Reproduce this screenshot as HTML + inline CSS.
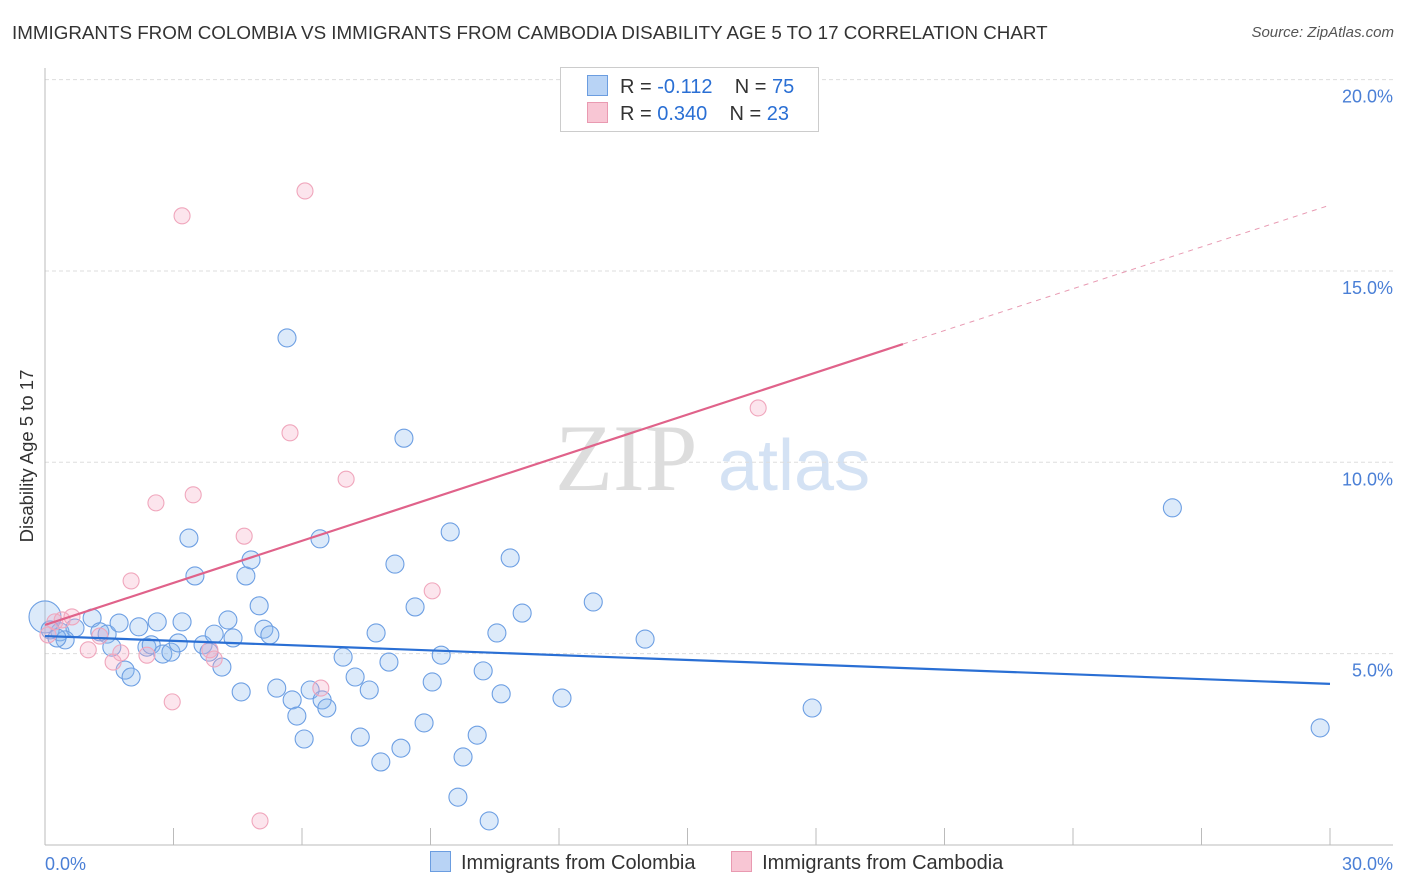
<!DOCTYPE html><html><head><meta charset="utf-8"><style>
body{margin:0;background:#fff;font-family:"Liberation Sans",sans-serif;}
#w{position:relative;width:1406px;height:892px;overflow:hidden}
</style></head><body><div id="w">
<div style="position:absolute;left:12px;top:22px;font-size:18.8px;color:#333;white-space:nowrap">IMMIGRANTS FROM COLOMBIA VS IMMIGRANTS FROM CAMBODIA DISABILITY AGE 5 TO 17 CORRELATION CHART</div>
<div style="position:absolute;right:12px;top:24px;font-size:15px;color:#555;font-style:italic">Source: ZipAtlas.com</div>
<svg id="s" width="1406" height="892" style="position:absolute;left:0;top:0"></svg>
</div>
<script>
const xTicks=[0,30];
const yTicks=[5,10,15,20];
const blueX=[0,0.35,0.70,1.10,1.28,1.45,1.56,1.73,1.87,2.01,2.19,2.38,2.48,2.62,2.75,2.94,3.11,3.20,3.36,3.50,3.69,3.83,3.95,4.13,4.27,4.39,4.58,4.69,4.81,5.00,5.11,5.25,5.41,5.65,5.77,5.88,6.05,6.19,6.42,6.47,6.58,6.96,7.24,7.36,7.57,7.73,7.84,8.03,8.17,8.31,8.38,8.64,8.85,9.04,9.25,9.46,9.64,9.76,10.09,10.23,10.37,10.55,10.65,10.86,11.14,12.07,12.80,14.01,17.91,26.32,29.77,0.12,0.47,0.28];
const blueY=[5.96,5.57,5.67,5.93,5.57,5.51,5.17,5.80,4.57,4.39,5.70,5.17,5.23,5.83,4.99,5.04,5.28,5.83,8.02,7.03,5.23,5.04,5.51,4.65,5.88,5.41,4.00,7.03,7.45,6.25,5.64,5.49,4.10,13.25,3.79,3.37,2.77,4.05,8.00,3.79,3.58,4.91,4.39,2.82,4.05,5.54,2.17,4.78,7.34,2.53,10.63,6.22,3.19,4.26,4.96,8.18,1.25,2.30,2.87,4.55,0.63,5.54,3.95,7.50,6.06,3.84,6.35,5.38,3.58,8.81,3.06,5.62,5.36,5.41];
const pinkX=[0.07,0.23,0.40,0.63,1.01,1.28,1.59,1.77,2.01,2.38,2.59,2.97,3.20,3.46,3.85,3.95,4.65,5.02,5.72,6.07,6.44,7.03,9.04,16.65];
const pinkY=[5.49,5.83,5.88,5.96,5.10,5.46,4.78,5.02,6.90,4.96,8.94,3.74,16.44,9.15,5.10,4.86,8.07,0.63,10.77,17.09,4.10,9.56,6.64,11.42];
const blueTrend=[[0,5.46],[30,4.21]];
const pinkTrend=[[0,5.75],[20.03,13.09]];
const pinkDash=[[20.03,13.09],[30,16.72]];
const X=v=>45+v/30*1285, Y=v=>845-v*38.27;
const s=document.getElementById('s');const NS='http://www.w3.org/2000/svg';
function mk(t,a,p){const e=document.createElementNS(NS,t);for(const k in a)e.setAttribute(k,a[k]);(p||s).appendChild(e);return e;}
let wm=mk('text',{x:555,y:490,'font-size':95,fill:'#ddd','font-family':'Liberation Serif'});wm.textContent='ZIP';


let wm2=mk('text',{x:718,y:490,'font-size':72,fill:'#d4e2f4'});wm2.textContent='atlas';


yTicks.forEach(v=>{const l=mk('line',{x1:45,x2:1393,y1:Y(v),y2:Y(v),stroke:'#ddd','stroke-dasharray':'4,3'});


const t=mk('text',{x:1393,y:Y(v)+23,'text-anchor':'end','font-size':18,fill:'#4a7fd6'});t.textContent=v.toFixed(1)+'%';

});
let ax=mk('line',{x1:45,x2:1393,y1:845,y2:845,stroke:'#bbb'});


let ay=mk('line',{x1:45,x2:45,y1:68,y2:845,stroke:'#bbb'});


for(let i=1;i<=10;i++){const tk=mk('line',{x1:45+i*128.5,x2:45+i*128.5,y1:828,y2:845,stroke:'#bbb'});

}
xTicks.forEach((v,i)=>{const t=mk('text',{x:i?1393:45,y:870,'text-anchor':i?'end':'start','font-size':18,fill:'#4a7fd6'});t.textContent=v.toFixed(1)+'%';

});
let yt=mk('text',{transform:'translate(33,456) rotate(-90)','text-anchor':'middle','font-size':18.5,fill:'#333'});yt.textContent='Disability Age 5 to 17';


blueX.forEach((v,i)=>{const c=mk('circle',{cx:X(v),cy:Y(blueY[i]),r:i==0?16:9,fill:'rgba(140,185,240,0.3)',stroke:'#6d9fe3','stroke-width':1.1});

});
pinkX.forEach((v,i)=>{const c=mk('circle',{cx:X(v),cy:Y(pinkY[i]),r:8,fill:'rgba(245,170,195,0.3)',stroke:'#f0a6bc','stroke-width':1.1});

});
function ln(d,col,w,da,n){const l=mk('line',{x1:X(d[0][0]),y1:Y(d[0][1]),x2:X(d[1][0]),y2:Y(d[1][1]),stroke:col,'stroke-width':w});if(da)l.setAttribute('stroke-dasharray',da);

}
ln(blueTrend,'#2a6fd4',2.2,null,'trend-colombia');
ln(pinkTrend,'#e0628a',2.2,null,'trend-cambodia');
ln(pinkDash,'#e89ab2',1,'5,5','trend-cambodia-extension');
</script>
<div style="position:absolute;left:560px;top:67px;width:257px;height:63px;border:1px solid #ccc;background:#fff;font-size:20px;color:#333">
<div style="position:absolute;left:26px;top:7px;white-space:nowrap"><span style="display:inline-block;width:19px;height:19px;background:#b8d3f5;border:1px solid #6b9de0;vertical-align:-3px;margin-right:12px"></span>R = <span style="color:#2a6fd4">-0.112</span>&nbsp;&nbsp;&nbsp; N = <span style="color:#2a6fd4">75</span></div>
<div style="position:absolute;left:26px;top:34px;white-space:nowrap"><span style="display:inline-block;width:19px;height:19px;background:#f8c6d4;border:1px solid #e99ab1;vertical-align:-3px;margin-right:12px"></span>R = <span style="color:#2a6fd4">0.340</span>&nbsp;&nbsp;&nbsp; N = <span style="color:#2a6fd4">23</span></div>
</div>
<div style="position:absolute;left:430px;top:851px;font-size:20px;color:#333;white-space:nowrap">
<span><span style="display:inline-block;width:19px;height:19px;background:#b8d3f5;border:1px solid #6b9de0;vertical-align:-3px;margin-right:10px"></span>Immigrants from Colombia</span>
<span style="margin-left:30px"><span style="display:inline-block;width:19px;height:19px;background:#f8c6d4;border:1px solid #e99ab1;vertical-align:-3px;margin-right:10px"></span>Immigrants from Cambodia</span>
</div>
</body></html>
